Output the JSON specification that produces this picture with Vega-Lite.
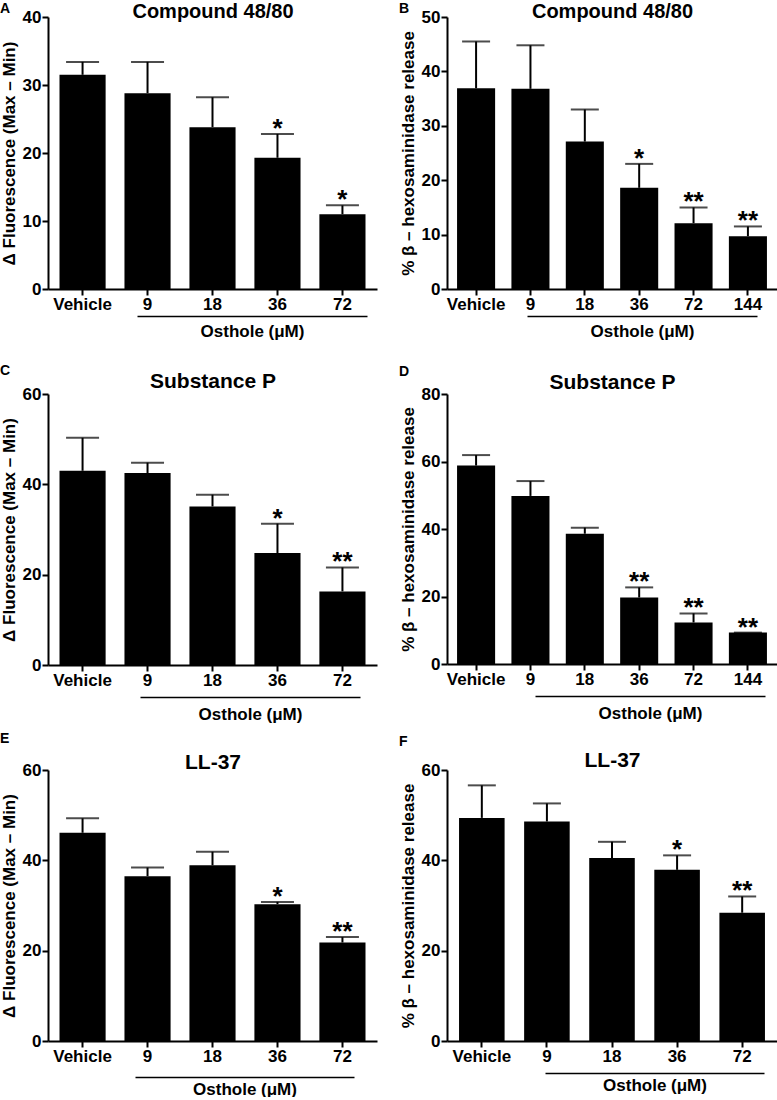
{
  "$schema": "https://vega.github.io/schema/vega-lite/v6.json",
  "padding": {"top": 1, "left": 0, "right": 0, "bottom": 0},
  "bounds": "flush",
  "columns": 2,
  "spacing": {"row": 105, "column": 70},
  "datasets": {
    "A": [
      {"dose": "Vehicle", "mean": 31.5, "upper": 33.4, "sig": ""},
      {"dose": "9", "mean": 28.8, "upper": 33.4, "sig": ""},
      {"dose": "18", "mean": 23.8, "upper": 28.2, "sig": ""},
      {"dose": "36", "mean": 19.3, "upper": 22.8, "sig": "*"},
      {"dose": "72", "mean": 11.0, "upper": 12.3, "sig": "*"}
    ],
    "B": [
      {"dose": "Vehicle", "mean": 36.9, "upper": 45.5, "sig": ""},
      {"dose": "9", "mean": 36.8, "upper": 44.8, "sig": ""},
      {"dose": "18", "mean": 27.1, "upper": 33.0, "sig": ""},
      {"dose": "36", "mean": 18.6, "upper": 23.0, "sig": "*"},
      {"dose": "72", "mean": 12.1, "upper": 15.0, "sig": "**"},
      {"dose": "144", "mean": 9.7, "upper": 11.5, "sig": "**"}
    ],
    "C": [
      {"dose": "Vehicle", "mean": 43.0, "upper": 50.3, "sig": ""},
      {"dose": "9", "mean": 42.5, "upper": 44.8, "sig": ""},
      {"dose": "18", "mean": 35.1, "upper": 37.7, "sig": ""},
      {"dose": "36", "mean": 24.8, "upper": 31.3, "sig": "*"},
      {"dose": "72", "mean": 16.3, "upper": 21.6, "sig": "**"}
    ],
    "D": [
      {"dose": "Vehicle", "mean": 58.8, "upper": 61.9, "sig": ""},
      {"dose": "9", "mean": 49.8, "upper": 54.2, "sig": ""},
      {"dose": "18", "mean": 38.6, "upper": 40.4, "sig": ""},
      {"dose": "36", "mean": 19.7, "upper": 22.7, "sig": "**"},
      {"dose": "72", "mean": 12.3, "upper": 15.0, "sig": "**"},
      {"dose": "144", "mean": 9.3, "upper": 9.3, "sig": "**"}
    ],
    "E": [
      {"dose": "Vehicle", "mean": 46.1, "upper": 49.3, "sig": ""},
      {"dose": "9", "mean": 36.5, "upper": 38.4, "sig": ""},
      {"dose": "18", "mean": 38.9, "upper": 41.9, "sig": ""},
      {"dose": "36", "mean": 30.3, "upper": 30.8, "sig": "*"},
      {"dose": "72", "mean": 21.8, "upper": 23.0, "sig": "**"}
    ],
    "F": [
      {"dose": "Vehicle", "mean": 49.4, "upper": 56.6, "sig": ""},
      {"dose": "9", "mean": 48.6, "upper": 52.6, "sig": ""},
      {"dose": "18", "mean": 40.5, "upper": 44.1, "sig": ""},
      {"dose": "36", "mean": 37.9, "upper": 41.1, "sig": "*"},
      {"dose": "72", "mean": 28.4, "upper": 32.0, "sig": "**"}
    ]
  },
  "concat": [
    {
      "data": {"name": "A"},
      "width": 329, "height": 272,
      "title": {"text": "A", "offset": -15},
      "layer": [
        {
          "encoding": {"x": {"field": "dose", "type": "nominal", "sort": null, "scale": {"paddingInner": 0.29, "paddingOuter": 0.177}, "axis": {"title": null}}},
          "layer": [
            {"mark": {"type": "bar", "color": "black"}, "encoding": {"y": {"field": "mean", "type": "quantitative", "scale": {"domain": [0, 40], "nice": false}, "axis": {"title": "Δ Fluorescence (Max – Min)", "values": [0, 10, 20, 30, 40]}}}},
            {"mark": {"type": "rule", "color": "black", "strokeWidth": 2}, "encoding": {"y": {"field": "mean", "type": "quantitative"}, "y2": {"field": "upper"}}},
            {"mark": {"type": "tick", "color": "black", "thickness": 2, "size": 33}, "encoding": {"y": {"field": "upper", "type": "quantitative"}}},
            {"mark": {"type": "text", "color": "black", "fontSize": 26, "fontWeight": "bold", "baseline": "alphabetic", "dy": 3}, "encoding": {"y": {"field": "upper", "type": "quantitative"}, "text": {"field": "sig"}}}
          ]
        },
        {"mark": {"type": "point", "opacity": 0}, "encoding": {"y": {"datum": 0, "type": "quantitative"}, "x": {"datum": "Osthole", "type": "nominal", "scale": {"range": [89, 319]}, "axis": {"orient": "bottom", "offset": 27, "labels": false, "ticks": false, "domainWidth": 1.5, "title": "Osthole (μM)", "titlePadding": 20, "titleBaseline": "alphabetic"}}}},
        {"mark": {"type": "point", "opacity": 0}, "encoding": {"y": {"datum": 0, "type": "quantitative"}, "x": {"datum": "Compound 48/80", "type": "nominal", "axis": {"orient": "top", "labels": false, "ticks": false, "domain": false, "title": "Compound 48/80", "titleFontSize": 20, "titlePadding": 0, "titleBaseline": "alphabetic"}}}}
      ],
      "resolve": {"scale": {"x": "independent"}, "axis": {"x": "independent"}}
    },
    {
      "data": {"name": "B"},
      "width": 330, "height": 272,
      "title": {"text": "B", "offset": -15},
      "layer": [
        {
          "encoding": {"x": {"field": "dose", "type": "nominal", "sort": null, "scale": {"paddingInner": 0.3, "paddingOuter": 0.185}, "axis": {"title": null}}},
          "layer": [
            {"mark": {"type": "bar", "color": "black"}, "encoding": {"y": {"field": "mean", "type": "quantitative", "scale": {"domain": [0, 50], "nice": false}, "axis": {"title": "% β – hexosaminidase release", "values": [0, 10, 20, 30, 40, 50]}}}},
            {"mark": {"type": "rule", "color": "black", "strokeWidth": 2}, "encoding": {"y": {"field": "mean", "type": "quantitative"}, "y2": {"field": "upper"}}},
            {"mark": {"type": "tick", "color": "black", "thickness": 2, "size": 28}, "encoding": {"y": {"field": "upper", "type": "quantitative"}}},
            {"mark": {"type": "text", "color": "black", "fontSize": 26, "fontWeight": "bold", "baseline": "alphabetic", "dy": 3}, "encoding": {"y": {"field": "upper", "type": "quantitative"}, "text": {"field": "sig"}}}
          ]
        },
        {"mark": {"type": "point", "opacity": 0}, "encoding": {"y": {"datum": 0, "type": "quantitative"}, "x": {"datum": "Osthole", "type": "nominal", "scale": {"range": [80, 310]}, "axis": {"orient": "bottom", "offset": 27, "labels": false, "ticks": false, "domainWidth": 1.5, "title": "Osthole (μM)", "titlePadding": 20, "titleBaseline": "alphabetic"}}}},
        {"mark": {"type": "point", "opacity": 0}, "encoding": {"y": {"datum": 0, "type": "quantitative"}, "x": {"datum": "Compound 48/80", "type": "nominal", "axis": {"orient": "top", "labels": false, "ticks": false, "domain": false, "title": "Compound 48/80", "titleFontSize": 20, "titlePadding": 0, "titleBaseline": "alphabetic"}}}}
      ],
      "resolve": {"scale": {"x": "independent"}, "axis": {"x": "independent"}}
    },
    {
      "data": {"name": "C"},
      "width": 329, "height": 271,
      "title": {"text": "C", "offset": -8},
      "layer": [
        {
          "encoding": {"x": {"field": "dose", "type": "nominal", "sort": null, "scale": {"paddingInner": 0.29, "paddingOuter": 0.177}, "axis": {"title": null}}},
          "layer": [
            {"mark": {"type": "bar", "color": "black"}, "encoding": {"y": {"field": "mean", "type": "quantitative", "scale": {"domain": [0, 60], "nice": false}, "axis": {"title": "Δ Fluorescence (Max – Min)", "values": [0, 20, 40, 60]}}}},
            {"mark": {"type": "rule", "color": "black", "strokeWidth": 2}, "encoding": {"y": {"field": "mean", "type": "quantitative"}, "y2": {"field": "upper"}}},
            {"mark": {"type": "tick", "color": "black", "thickness": 2, "size": 33}, "encoding": {"y": {"field": "upper", "type": "quantitative"}}},
            {"mark": {"type": "text", "color": "black", "fontSize": 26, "fontWeight": "bold", "baseline": "alphabetic", "dy": 3}, "encoding": {"y": {"field": "upper", "type": "quantitative"}, "text": {"field": "sig"}}}
          ]
        },
        {"mark": {"type": "point", "opacity": 0}, "encoding": {"y": {"datum": 0, "type": "quantitative"}, "x": {"datum": "Osthole", "type": "nominal", "scale": {"range": [92, 312]}, "axis": {"orient": "bottom", "offset": 32, "labels": false, "ticks": false, "domainWidth": 1.5, "title": "Osthole (μM)", "titlePadding": 22, "titleBaseline": "alphabetic"}}}},
        {"mark": {"type": "point", "opacity": 0}, "encoding": {"y": {"datum": 0, "type": "quantitative"}, "x": {"datum": "Substance P", "type": "nominal", "axis": {"orient": "top", "labels": false, "ticks": false, "domain": false, "title": "Substance P", "titleFontSize": 21, "titlePadding": 7, "titleBaseline": "alphabetic"}}}}
      ],
      "resolve": {"scale": {"x": "independent"}, "axis": {"x": "independent"}}
    },
    {
      "data": {"name": "D"},
      "width": 330, "height": 270,
      "title": {"text": "D", "offset": -8},
      "layer": [
        {
          "encoding": {"x": {"field": "dose", "type": "nominal", "sort": null, "scale": {"paddingInner": 0.3, "paddingOuter": 0.185}, "axis": {"title": null}}},
          "layer": [
            {"mark": {"type": "bar", "color": "black"}, "encoding": {"y": {"field": "mean", "type": "quantitative", "scale": {"domain": [0, 80], "nice": false}, "axis": {"title": "% β – hexosaminidase release", "values": [0, 20, 40, 60, 80]}}}},
            {"mark": {"type": "rule", "color": "black", "strokeWidth": 2}, "encoding": {"y": {"field": "mean", "type": "quantitative"}, "y2": {"field": "upper"}}},
            {"mark": {"type": "tick", "color": "black", "thickness": 2, "size": 28}, "encoding": {"y": {"field": "upper", "type": "quantitative"}}},
            {"mark": {"type": "text", "color": "black", "fontSize": 26, "fontWeight": "bold", "baseline": "alphabetic", "dy": 3}, "encoding": {"y": {"field": "upper", "type": "quantitative"}, "text": {"field": "sig"}}}
          ]
        },
        {"mark": {"type": "point", "opacity": 0}, "encoding": {"y": {"datum": 0, "type": "quantitative"}, "x": {"datum": "Osthole", "type": "nominal", "scale": {"range": [88, 318]}, "axis": {"orient": "bottom", "offset": 32, "labels": false, "ticks": false, "domainWidth": 1.5, "title": "Osthole (μM)", "titlePadding": 22, "titleBaseline": "alphabetic"}}}},
        {"mark": {"type": "point", "opacity": 0}, "encoding": {"y": {"datum": 0, "type": "quantitative"}, "x": {"datum": "Substance P", "type": "nominal", "axis": {"orient": "top", "labels": false, "ticks": false, "domain": false, "title": "Substance P", "titleFontSize": 21, "titlePadding": 6, "titleBaseline": "alphabetic"}}}}
      ],
      "resolve": {"scale": {"x": "independent"}, "axis": {"x": "independent"}}
    },
    {
      "data": {"name": "E"},
      "width": 329, "height": 271,
      "title": {"text": "E", "offset": 5},
      "layer": [
        {
          "encoding": {"x": {"field": "dose", "type": "nominal", "sort": null, "scale": {"paddingInner": 0.29, "paddingOuter": 0.177}, "axis": {"title": null}}},
          "layer": [
            {"mark": {"type": "bar", "color": "black"}, "encoding": {"y": {"field": "mean", "type": "quantitative", "scale": {"domain": [0, 60], "nice": false}, "axis": {"title": "Δ Fluorescence (Max – Min)", "values": [0, 20, 40, 60]}}}},
            {"mark": {"type": "rule", "color": "black", "strokeWidth": 2}, "encoding": {"y": {"field": "mean", "type": "quantitative"}, "y2": {"field": "upper"}}},
            {"mark": {"type": "tick", "color": "black", "thickness": 2, "size": 33}, "encoding": {"y": {"field": "upper", "type": "quantitative"}}},
            {"mark": {"type": "text", "color": "black", "fontSize": 26, "fontWeight": "bold", "baseline": "alphabetic", "dy": 3}, "encoding": {"y": {"field": "upper", "type": "quantitative"}, "text": {"field": "sig"}}}
          ]
        },
        {"mark": {"type": "point", "opacity": 0}, "encoding": {"y": {"datum": 0, "type": "quantitative"}, "x": {"datum": "Osthole", "type": "nominal", "scale": {"range": [87, 306]}, "axis": {"orient": "bottom", "offset": 36, "labels": false, "ticks": false, "domainWidth": 1.5, "title": "Osthole (μM)", "titlePadding": 17, "titleBaseline": "alphabetic"}}}},
        {"mark": {"type": "point", "opacity": 0}, "encoding": {"y": {"datum": 0, "type": "quantitative"}, "x": {"datum": "LL-37", "type": "nominal", "axis": {"orient": "top", "labels": false, "ticks": false, "domain": false, "title": "LL-37", "titleFontSize": 21, "titlePadding": 2, "titleBaseline": "alphabetic"}}}}
      ],
      "resolve": {"scale": {"x": "independent"}, "axis": {"x": "independent"}}
    },
    {
      "data": {"name": "F"},
      "width": 330, "height": 271,
      "title": {"text": "F", "offset": 0},
      "layer": [
        {
          "encoding": {"x": {"field": "dose", "type": "nominal", "sort": null, "scale": {"paddingInner": 0.3, "paddingOuter": 0.185}, "axis": {"title": null}}},
          "layer": [
            {"mark": {"type": "bar", "color": "black"}, "encoding": {"y": {"field": "mean", "type": "quantitative", "scale": {"domain": [0, 60], "nice": false}, "axis": {"title": "% β – hexosaminidase release", "values": [0, 20, 40, 60]}}}},
            {"mark": {"type": "rule", "color": "black", "strokeWidth": 2}, "encoding": {"y": {"field": "mean", "type": "quantitative"}, "y2": {"field": "upper"}}},
            {"mark": {"type": "tick", "color": "black", "thickness": 2, "size": 28}, "encoding": {"y": {"field": "upper", "type": "quantitative"}}},
            {"mark": {"type": "text", "color": "black", "fontSize": 26, "fontWeight": "bold", "baseline": "alphabetic", "dy": 3}, "encoding": {"y": {"field": "upper", "type": "quantitative"}, "text": {"field": "sig"}}}
          ]
        },
        {"mark": {"type": "point", "opacity": 0}, "encoding": {"y": {"datum": 0, "type": "quantitative"}, "x": {"datum": "Osthole", "type": "nominal", "scale": {"range": [98, 317]}, "axis": {"orient": "bottom", "offset": 32, "labels": false, "ticks": false, "domainWidth": 1.5, "title": "Osthole (μM)", "titlePadding": 17, "titleBaseline": "alphabetic"}}}},
        {"mark": {"type": "point", "opacity": 0}, "encoding": {"y": {"datum": 0, "type": "quantitative"}, "x": {"datum": "LL-37", "type": "nominal", "axis": {"orient": "top", "labels": false, "ticks": false, "domain": false, "title": "LL-37", "titleFontSize": 21, "titlePadding": 4, "titleBaseline": "alphabetic"}}}}
      ],
      "resolve": {"scale": {"x": "independent"}, "axis": {"x": "independent"}}
    }
  ],
  "config": {
    "font": "Liberation Sans",
    "view": {"stroke": null},
    "axis": {
      "grid": false,
      "domainColor": "black",
      "domainWidth": 2,
      "tickColor": "black",
      "tickWidth": 2,
      "tickSize": 6,
      "labelFont": "Liberation Sans",
      "labelFontWeight": "bold",
      "labelFontSize": 17,
      "labelColor": "black",
      "labelPadding": 1,
      "titleFont": "Liberation Sans",
      "titleFontWeight": "bold",
      "titleFontSize": 17,
      "titleColor": "black"
    },
    "axisX": {"labelAngle": 0, "labelOverlap": false},
    "axisY": {"titlePadding": 4},
    "title": {"anchor": "start", "frame": "bounds", "fontSize": 14, "fontWeight": "bold", "color": "black", "font": "Liberation Sans"}
  }
}
